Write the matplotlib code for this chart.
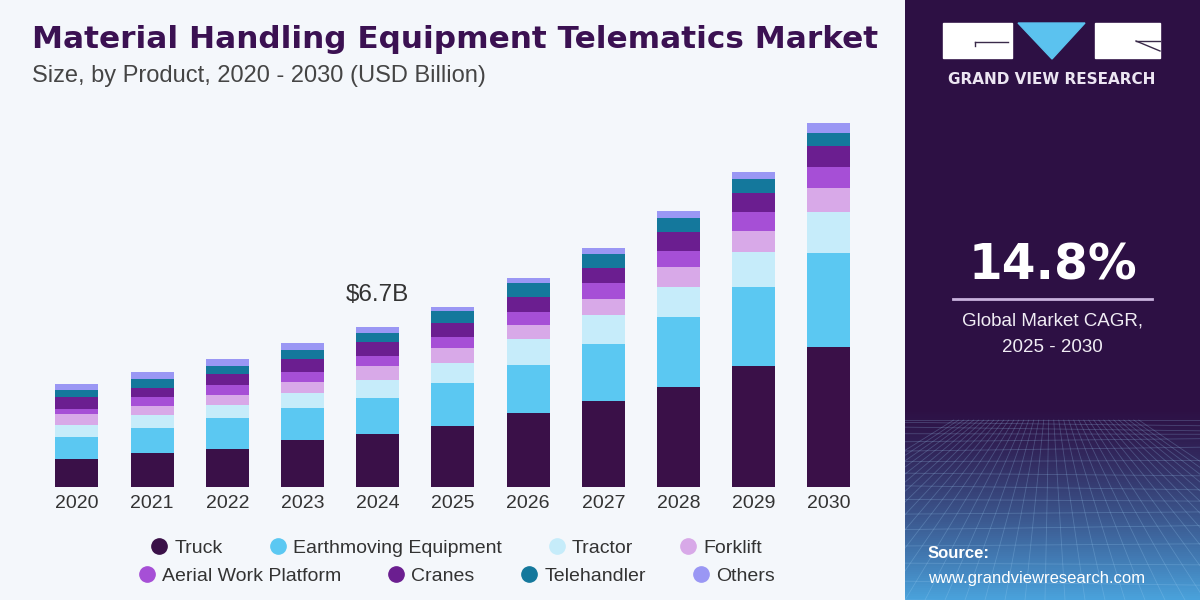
import numpy as np
import matplotlib.pyplot as plt
from matplotlib.lines import Line2D
from matplotlib.patches import Rectangle, Polygon

# data (USD billion)
years = ['2020', '2021', '2022', '2023', '2024', '2025', '2026', '2027', '2028', '2029', '2030']
truck = [1.18, 1.42, 1.60, 1.95, 2.19, 2.53, 3.07, 3.59, 4.19, 5.07, 5.84]
earthmoving = [0.90, 1.02, 1.26, 1.33, 1.53, 1.81, 2.02, 2.40, 2.91, 3.31, 3.96]
tractor = [0.52, 0.56, 0.56, 0.65, 0.77, 0.84, 1.08, 1.21, 1.26, 1.44, 1.72]
forklift = [0.43, 0.38, 0.42, 0.46, 0.57, 0.64, 0.60, 0.67, 0.86, 0.90, 1.00]
aerial = [0.24, 0.36, 0.42, 0.42, 0.41, 0.47, 0.56, 0.65, 0.67, 0.80, 0.88]
cranes = [0.49, 0.38, 0.46, 0.52, 0.60, 0.56, 0.63, 0.64, 0.77, 0.80, 0.87]
telehandler = [0.28, 0.38, 0.34, 0.39, 0.38, 0.53, 0.56, 0.59, 0.59, 0.57, 0.56]
others = [0.28, 0.32, 0.27, 0.31, 0.25, 0.14, 0.21, 0.25, 0.28, 0.31, 0.39]

series = [
    ('Truck', truck, '#3a1048'),
    ('Earthmoving Equipment', earthmoving, '#5bc8f2'),
    ('Tractor', tractor, '#c6ecfa'),
    ('Forklift', forklift, '#d8a9e8'),
    ('Aerial Work Platform', aerial, '#a64fd6'),
    ('Cranes', cranes, '#6b1e90'),
    ('Telehandler', telehandler, '#14789c'),
    ('Others', others, '#9a97f4'),
]
label_year = 4
label_text = '$6.7B'

BG = '#f4f7fb'
SANS = ['Liberation Sans', 'DejaVu Sans']

fig = plt.figure(figsize=(12, 6), dpi=100, facecolor=BG)

# decoration layer in pixel coords
deco = fig.add_axes([0, 0, 1, 1], zorder=0)
deco.set_xlim(0, 1200)
deco.set_ylim(600, 0)
deco.axis('off')

# right panel with gradient at the bottom
grad = np.linspace(0, 1, 300)
t = np.clip((grad - 0.68) / 0.32, 0, 1) ** 1.3
c0 = np.array([0x2d, 0x10, 0x44]) / 255
c1 = np.array([0x4a, 0xa2, 0xdc]) / 255
img = (c0[None, :] * (1 - t[:, None]) + c1[None, :] * t[:, None])[:, None, :]
deco.imshow(img, extent=[905, 1200, 600, 0], aspect='auto', zorder=1)

# perspective mesh, clipped to the panel
clip = Rectangle((905, 0), 295, 600, transform=deco.transData, visible=False)
deco.add_patch(clip)
for k in range(16):
    y = 420 + 180 * (k / 15) ** 1.6
    ln, = deco.plot([905, 1200], [y, y + 4 * np.sin(k)], color='#9fd0f5', lw=0.6, alpha=0.25, zorder=2)
    ln.set_clip_path(clip)
for k in range(-12, 26):
    xb = 905 + k * 20
    ln, = deco.plot([1050 + (xb - 1050) * 0.25, xb], [420, 600], color='#9fd0f5', lw=0.6, alpha=0.25, zorder=2)
    ln.set_clip_path(clip)

# logo
deco.add_patch(Rectangle((943, 23), 69, 35, color='white', zorder=4))
deco.add_patch(Rectangle((1095, 23), 65, 35, color='white', zorder=4))
deco.add_patch(Polygon([[1018, 23], [1085, 23], [1052, 59]], color='#5bc2ef', zorder=4))
deco.plot([975, 1008], [42, 42], color='#3a2a4a', lw=1, zorder=5)
deco.plot([975, 975], [42, 46], color='#3a2a4a', lw=1, zorder=5)
deco.plot([1136, 1160], [41, 41], color='#3a2a4a', lw=1, zorder=5)
deco.plot([1136, 1160], [41, 51], color='#3a2a4a', lw=1, zorder=5)
deco.text(1052, 79, 'GRAND VIEW RESEARCH', color='#ece6f2', fontsize=11,
          fontweight='bold', ha='center', va='center', zorder=5)

# CAGR
deco.text(1053, 266, '14.8%', color='white', fontsize=35, fontweight='bold',
          ha='center', va='center', zorder=5)
deco.plot([953, 1152], [299, 299], color='#c9b2dd', lw=2, zorder=5)
deco.text(1052, 321, 'Global Market CAGR,', color='#f0ecf4', fontsize=13.5,
          family=SANS, ha='center', va='center', zorder=5)
deco.text(1052, 347, '2025 - 2030', color='#f0ecf4', fontsize=13.5,
          family=SANS, ha='center', va='center', zorder=5)

# source
deco.text(928, 553, 'Source:', color='white', fontsize=12, fontweight='bold',
          family=SANS, ha='left', va='center', zorder=5)
deco.text(928, 578, 'www.grandviewresearch.com', color='white', fontsize=12,
          family=SANS, ha='left', va='center', zorder=5)

# titles
deco.text(32, 40, 'Material Handling Equipment Telematics Market', color='#3b1152',
          fontsize=22.4, fontweight='heavy', ha='left', va='center', zorder=5)
deco.text(32, 76, 'Size, by Product, 2020 - 2030 (USD Billion)', color='#454545',
          fontsize=17, family=SANS, ha='left', va='center', zorder=5)

# bars
ax = fig.add_axes([39.3 / 1200, 1 - 486.7 / 600, 827.2 / 1200, 382 / 600], zorder=1)
ax.patch.set_alpha(0)
x = np.arange(len(years))
bottom = np.zeros(len(years))
for name, vals, col in series:
    ax.bar(x, vals, 0.57, bottom=bottom, color=col, label=name)
    bottom += np.array(vals)
ax.set_xlim(-0.5, len(years) - 0.5)
ax.set_ylim(0, 16)
ax.set_yticks([])
ax.set_xticks(x)
ax.set_xticklabels(years, family=SANS, fontsize=14, color='#333333')
ax.tick_params(axis='x', length=0, pad=6)
for s in ax.spines.values():
    s.set_visible(False)
ax.text(label_year, bottom[label_year] + 0.85, label_text, ha='center', va='bottom',
        fontsize=17.5, family=SANS, color='#333333')

# legend, two centred rows
def handle(col):
    return Line2D([], [], marker='o', linestyle='', markersize=11, markerfacecolor=col,
                  markeredgecolor=col)

rows = [series[:4], series[4:]]
ys = [548, 576]
for row, yy in zip(rows, ys):
    fig.legend([handle(c) for _, _, c in row], [n for n, _, _ in row],
               loc='center', bbox_to_anchor=(455 / 1200, 1 - yy / 600), ncol=4,
               frameon=False, handletextpad=0.2, columnspacing=2.2,
               prop={'family': SANS, 'size': 14}, labelcolor='#333333',
               borderpad=0, handlelength=1.2)

fig.savefig('out.png', dpi=100, facecolor=BG)
